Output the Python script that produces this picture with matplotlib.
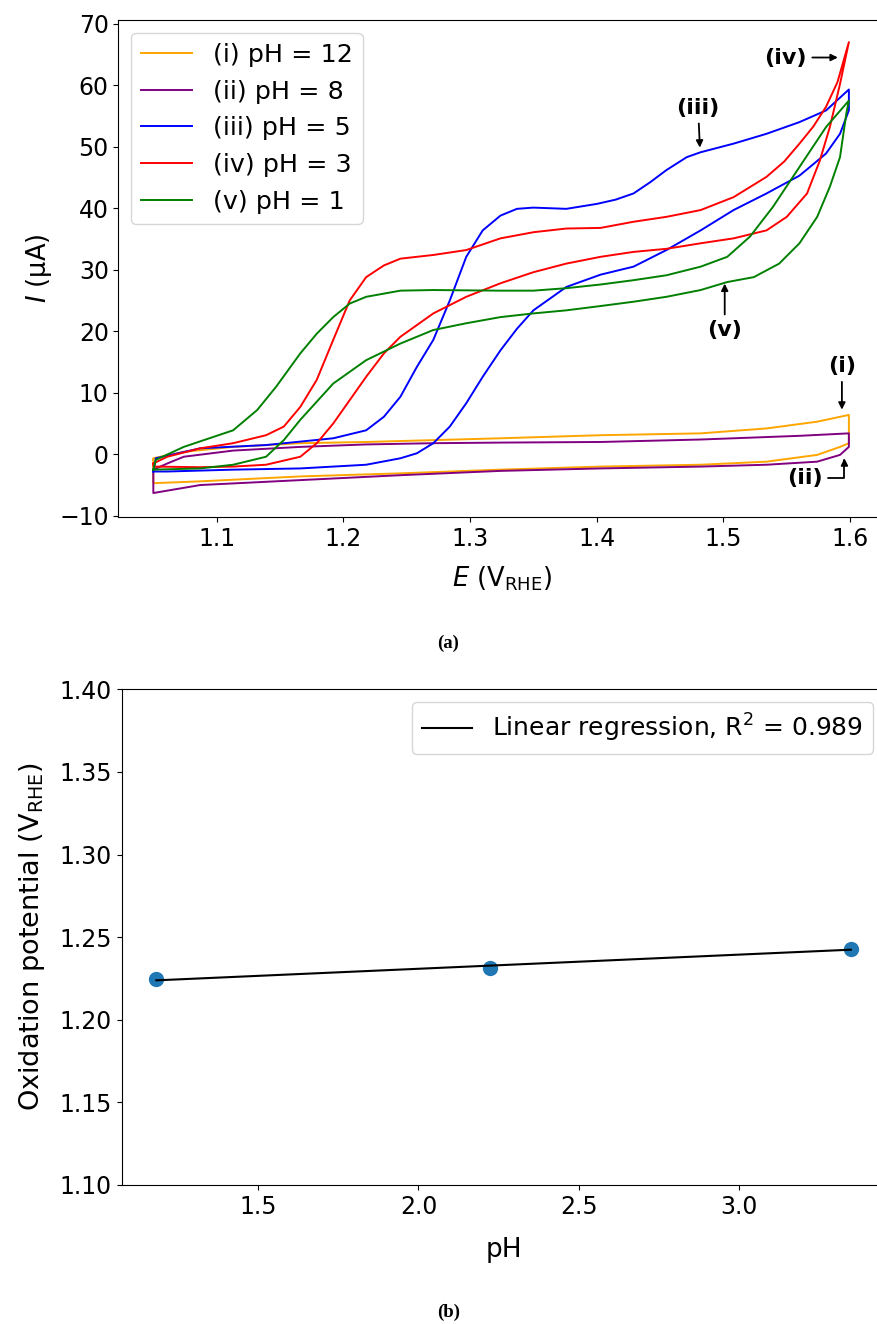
import matplotlib
matplotlib.use("Agg")
import matplotlib.pyplot as plt
import numpy as np

# ---- (a) voltammogrammes, valeurs (aller puis retour) ----
E_i = [1.05, 1.05, 1.074, 1.113, 1.166, 1.218, 1.271, 1.324, 1.403, 1.482, 1.534, 1.574, 1.599,
       1.599, 1.592, 1.574, 1.534, 1.482, 1.403, 1.324, 1.245, 1.166, 1.087, 1.05, 1.05]
I_i = [-0.9, -0.65, 0.4, 1.2, 1.8, 2.0, 2.3, 2.6, 3.1, 3.4, 4.2, 5.3, 6.4,
       1.8, 1.2, -0.1, -1.2, -1.7, -2.0, -2.5, -3.1, -3.6, -4.4, -4.7, -0.9]

E_ii = [1.05, 1.061, 1.074, 1.113, 1.166, 1.218, 1.271, 1.324, 1.403, 1.482, 1.56, 1.599,
        1.599, 1.592, 1.574, 1.534, 1.482, 1.403, 1.324, 1.245, 1.166, 1.087, 1.05, 1.05]
I_ii = [-2.5, -1.5, -0.4, 0.6, 1.2, 1.6, 1.8, 1.9, 2.0, 2.4, 3.0, 3.4,
        1.2, -0.1, -1.2, -1.7, -2.0, -2.3, -2.7, -3.4, -4.2, -5.0, -6.3, -2.5]

E_iii = [1.05, 1.052, 1.087, 1.139, 1.192, 1.218, 1.232, 1.245, 1.258, 1.271, 1.284, 1.297, 1.310,
         1.324, 1.337, 1.350, 1.376, 1.400, 1.415, 1.429, 1.442, 1.455, 1.471, 1.482, 1.508, 1.534,
         1.560, 1.581, 1.599,
         1.599, 1.592, 1.581, 1.570, 1.560, 1.534, 1.508, 1.482, 1.455, 1.429, 1.403, 1.376, 1.350,
         1.337, 1.324, 1.310, 1.297, 1.284, 1.271, 1.258, 1.245, 1.218, 1.166, 1.113, 1.061, 1.05]
I_iii = [-2.8, -0.65, 0.97, 1.5, 2.6, 3.9, 6.1, 9.35, 14.2, 18.6, 25.0, 32.1, 36.4,
         38.8, 39.9, 40.1, 39.9, 40.7, 41.4, 42.4, 44.2, 46.2, 48.3, 49.1, 50.5, 52.1,
         54.0, 55.9, 59.3,
         55.9, 52.1, 48.9, 47.0, 45.3, 42.4, 39.7, 36.4, 33.2, 30.5, 29.2, 27.2, 23.4,
         20.4, 16.9, 12.6, 8.3, 4.5, 1.8, 0.16, -0.65, -1.7, -2.3, -2.5, -2.8, -2.8]

E_iv = [1.05, 1.061, 1.087, 1.113, 1.139, 1.153, 1.166, 1.179, 1.192, 1.205, 1.218, 1.232, 1.245,
        1.271, 1.297, 1.324, 1.350, 1.376, 1.403, 1.429, 1.455, 1.482, 1.508, 1.534, 1.548, 1.560,
        1.571, 1.581, 1.590, 1.599,
        1.592, 1.584, 1.576, 1.566, 1.550, 1.534, 1.508, 1.482, 1.455, 1.429, 1.403, 1.376, 1.350,
        1.324, 1.297, 1.271, 1.245, 1.232, 1.218, 1.205, 1.192, 1.179, 1.166, 1.139, 1.113, 1.087,
        1.05, 1.05]
I_iv = [-1.5, -0.4, 0.97, 1.8, 3.1, 4.5, 7.7, 12.1, 18.6, 25.0, 28.8, 30.7, 31.8,
        32.4, 33.2, 35.1, 36.1, 36.7, 36.8, 37.8, 38.6, 39.7, 41.8, 45.1, 47.6, 50.5,
        53.3, 56.5, 60.5, 67.0,
        60.2, 53.2, 47.7, 42.4, 38.6, 36.4, 35.1, 34.3, 33.4, 32.9, 32.1, 31.0, 29.6,
        27.8, 25.6, 22.9, 19.1, 16.4, 12.6, 8.8, 5.0, 1.8, -0.4, -1.7, -2.0, -2.1,
        -2.0, -1.5]

E_v = [1.05, 1.052, 1.074, 1.113, 1.132, 1.147, 1.166, 1.179, 1.192, 1.205, 1.218, 1.245, 1.271,
       1.324, 1.350, 1.376, 1.403, 1.429, 1.455, 1.482, 1.503, 1.521, 1.539, 1.560, 1.581, 1.599,
       1.597, 1.592, 1.584, 1.574, 1.560, 1.544, 1.524, 1.503, 1.482, 1.455, 1.429, 1.403, 1.376,
       1.350, 1.324, 1.297, 1.271, 1.245, 1.218, 1.192, 1.166, 1.153, 1.139, 1.113, 1.087, 1.05, 1.05]
I_v = [-2.5, -0.9, 1.2, 3.9, 7.2, 11.0, 16.4, 19.6, 22.3, 24.5, 25.6, 26.6, 26.7,
       26.6, 26.6, 27.0, 27.6, 28.3, 29.1, 30.5, 32.1, 35.4, 40.2, 46.7, 53.2, 57.5,
       55.4, 48.3, 43.5, 38.6, 34.3, 31.0, 28.8, 28.0, 26.7, 25.6, 24.8, 24.1, 23.4,
       22.9, 22.3, 21.3, 20.2, 18.0, 15.3, 11.5, 5.6, 2.3, -0.4, -1.7, -2.3, -2.5, -2.5]

courbes = [(E_i, I_i, "orange", "(i) pH = 12"),
           (E_ii, I_ii, "purple", "(ii) pH = 8"),
           (E_iii, I_iii, "blue", "(iii) pH = 5"),
           (E_iv, I_iv, "red", "(iv) pH = 3"),
           (E_v, I_v, "green", "(v) pH = 1")]

# ---- (b) potentiel d'oxydation ----
pH_pts = [1.182, 2.223, 3.349]
E_ox = [1.2245, 1.2315, 1.2430]

fs = 17

fig = plt.figure(figsize=(8.77, 13.24), dpi=100)

# (a)
ax1 = fig.add_axes([0.1351, 0.6095, 0.874, 0.3754])
for E, I, cor, nome in courbes:
    ax1.plot(E, I, color=cor, lw=1.4, label=nome)
ax1.set_xlim(1.0225, 1.6275)
ax1.set_ylim(-10.2, 70.6)
ax1.set_xticks([1.1, 1.2, 1.3, 1.4, 1.5, 1.6])
ax1.set_yticks([-10, 0, 10, 20, 30, 40, 50, 60, 70])
ax1.tick_params(labelsize=fs)
ax1.set_xlabel(r"$E$ (V$_{\mathrm{RHE}}$)", fontsize=18.5, labelpad=10)
ax1.set_ylabel(r"$I$ (µA)", fontsize=18.5)
ax1.legend(loc="upper left", fontsize=18.3, handlelength=2.0)

seta = dict(arrowstyle="-|>", color="black", lw=1.3, mutation_scale=10)
fa = 16
ax1.annotate("(iv)", xy=(1.5925, 64.5), xytext=(1.549, 64.5), fontsize=fa, fontweight="bold",
             ha="center", va="center", arrowprops=seta)
ax1.annotate("(iii)", xy=(1.4815, 49.4), xytext=(1.480, 56.3), fontsize=fa, fontweight="bold",
             ha="center", va="center", arrowprops=seta)
ax1.annotate("(v)", xy=(1.501, 28.2), xytext=(1.501, 20.2), fontsize=fa, fontweight="bold",
             ha="center", va="center", arrowprops=seta)
ax1.annotate("(i)", xy=(1.5935, 6.8), xytext=(1.5935, 14.3), fontsize=fa, fontweight="bold",
             ha="center", va="center", arrowprops=seta)
ax1.annotate("(ii)", xy=(1.5955, -0.2), xytext=(1.564, -3.9), fontsize=fa, fontweight="bold",
             ha="center", va="center",
             arrowprops=dict(seta, connectionstyle="angle,angleA=0,angleB=90,rad=0"))

# (b)
ax2 = fig.add_axes([0.1388, 0.105, 0.8708, 0.3744])
a, b = np.polyfit(pH_pts, E_ox, 1)
xs = np.array([pH_pts[0], pH_pts[-1]])
ax2.scatter(pH_pts, E_ox, s=100, color="#1f77b4", zorder=2)
ax2.plot(xs, a * xs + b, color="black", lw=1.5, zorder=3,
         label=r"Linear regression, R$^2$ = 0.989")
ax2.set_xlim(1.074, 3.457)
ax2.set_ylim(1.10, 1.40)
ax2.set_xticks([1.5, 2.0, 2.5, 3.0])
ax2.set_yticks([1.10, 1.15, 1.20, 1.25, 1.30, 1.35, 1.40])
ax2.tick_params(labelsize=fs)
ax2.set_xlabel("pH", fontsize=19, labelpad=13)
ax2.set_ylabel(r"Oxidation potential (V$_{\mathrm{RHE}}$)", fontsize=19.5, labelpad=9)
ax2.legend(loc="upper right", fontsize=18)

fig.text(0.511, 1 - 643 / 1324, "(a)", ha="center", va="center",
         family="Liberation Serif", fontweight="bold", fontsize=13.5)
fig.text(0.511, 1 - 1312 / 1324, "(b)", ha="center", va="center",
         family="Liberation Serif", fontweight="bold", fontsize=13.5)

fig.savefig("out.png", dpi=100)
